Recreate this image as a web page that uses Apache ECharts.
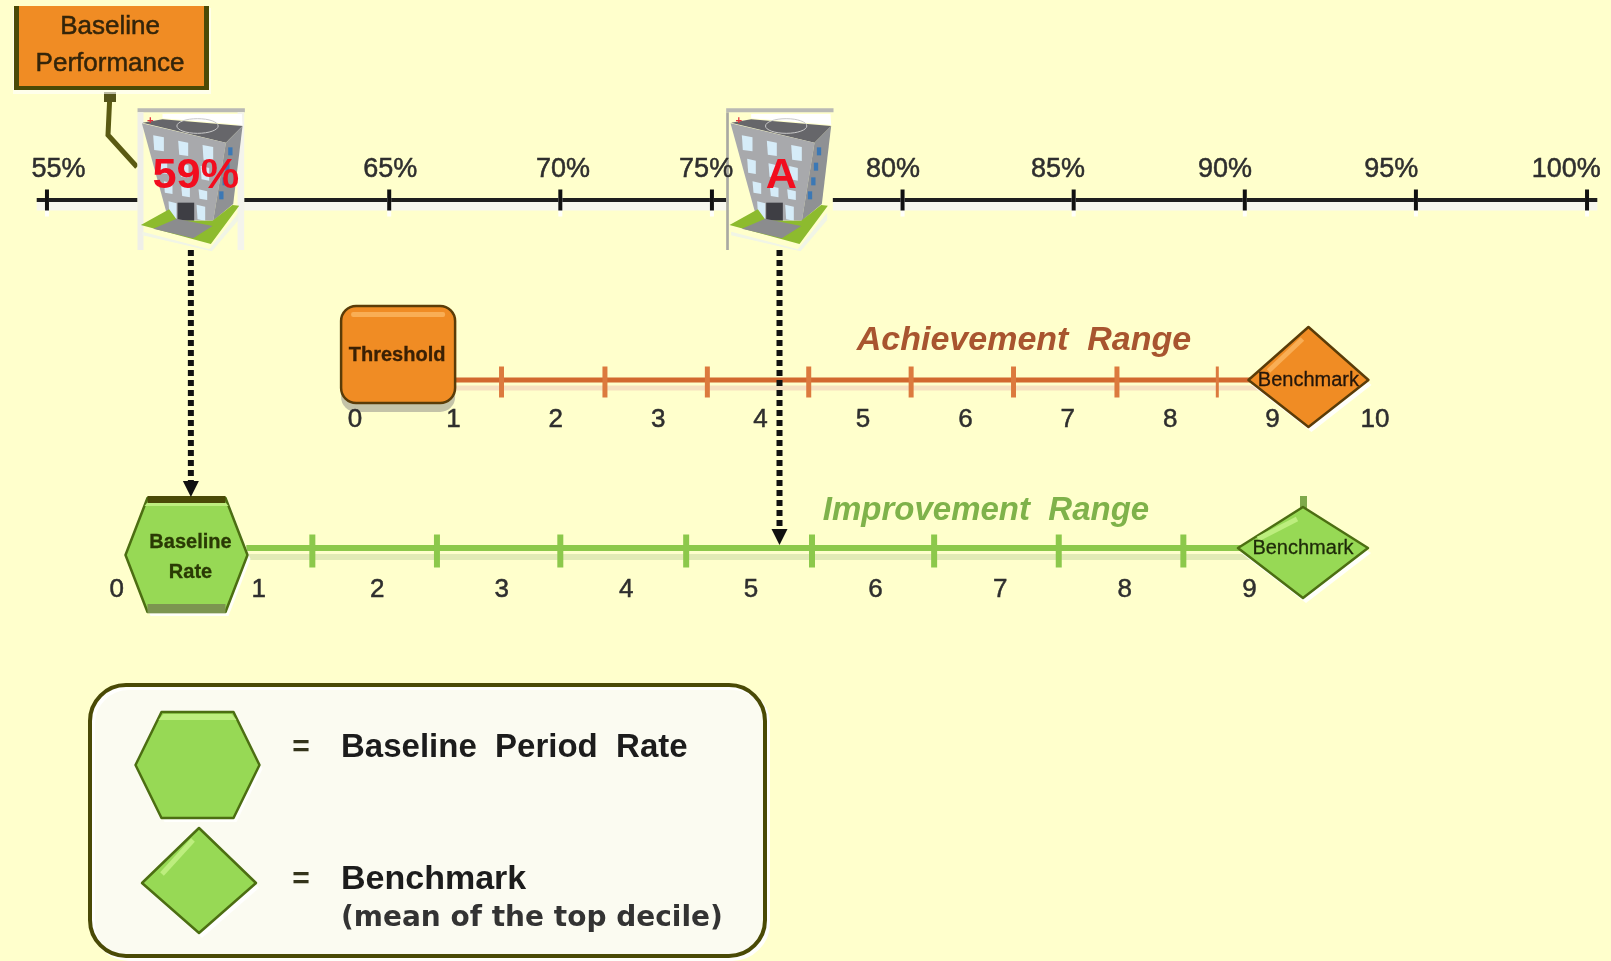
<!DOCTYPE html>
<html>
<head>
<meta charset="utf-8">
<title>Achievement and Improvement Ranges</title>
<script src="https://cdn.jsdelivr.net/npm/echarts@6/dist/echarts.min.js"></script>
<style>
  html, body { margin: 0; padding: 0; background: #FFFFCC; }
  #main { width: 1611px; height: 961px; }
</style>
</head>
<body>
<div id="main"></div>
<script>
// Performance scale
const percentTicks = [55, 60, 65, 70, 74.43, 80, 85, 90, 95, 100];
const percentLabelAnchors = [55.34, 65.03, 70.08, 74.26, 79.72, 84.54, 89.42, 94.28, 99.39];
const percentLabelTexts = ['55%', '65%', '70%', '75%', '80%', '85%', '90%', '95%', '100%'];

// Hospital markers on the performance scale
const hospitalValues = [59, 76.2];
const hospitalTexts = ['59%', 'A'];

// Achievement points
const achievementTicks = [1.47, 2.48, 3.48, 4.47, 5.47, 6.47, 7.48, 8.46];
const achievementLabelAnchors = [0.04, 1, 2, 3, 4, 5, 6, 7, 8, 9, 10];
const achievementLine = [1, 9.3];
const thresholdAt = 0.46;
const achievementBenchmarkAt = 9.35;

// Improvement points
const improvementTicks = [1.48, 2.48, 3.47, 4.48, 5.49, 6.47, 7.47, 8.47];
const improvementLabelAnchors = [-0.09, 1.05, 2, 3, 4, 5, 6, 7, 8, 9];
const improvementLine = [0.95, 9.3];
const baselineRateAt = 0.47;
const improvementBenchmarkAt = 9.43;

// Vertical rows, in page units, shared by the y axes
const SCALE_ROW = 200, ACH_ROW = 380, IMP_ROW = 548, PAGE_H = 961;

const BG = '#FFFFCC';
const ORANGE = '#F08C24', ORANGE_LIGHT = '#F9AE55', ORANGE_DARK = '#5A3C08';
const GREEN = '#97D955', GREEN_LIGHT = '#BDEE7E', GREEN_DARK = '#4C6E12';
const OLIVE = '#4A4A06';
const INK = '#2E2E2E';

const labelBase = {
  fontFamily: 'Liberation Sans', fontSize: 26, color: INK,
  textBorderColor: INK, textBorderWidth: 0.5,
  textShadowColor: 'rgba(255,255,255,0.95)', textShadowBlur: 0, textShadowOffsetY: 4
};

function poly(points, fill, extra) {
  return Object.assign({ type: 'polygon', shape: { points }, style: { fill } }, extra || {});
}
function outlined(points, fill, stroke, w) {
  return { type: 'polygon', shape: { points }, style: { fill, stroke, lineWidth: w, lineJoin: 'round' } };
}
function label(text, x, y, font, fill) {
  return { type: 'text', style: { text, x, y, font, fill, align: 'center', verticalAlign: 'middle', stroke: fill, lineWidth: 0.3 } };
}
function onLayer(parts, z) {
  return parts.map(p => Object.assign({ z }, p));
}

// Bevelled hexagon centred on the group origin
function hexagonParts(halfW, halfH, flat, text, opts) {
  const o = opts || {};
  const pts = [[-flat, -halfH], [flat, -halfH], [halfW, 0], [flat, halfH], [-flat, halfH], [-halfW, 0]];
  const parts = [
    poly(pts.map(p => [p[0] + 3, p[1] + 4]), 'rgba(255,255,255,0.85)'),
    outlined(pts, GREEN, GREEN_DARK, 2.5),
    poly([[-flat + 2, -halfH + 2], [flat - 2, -halfH + 2], [flat + 3, -halfH + 8], [-flat - 3, -halfH + 8]], GREEN_LIGHT)
  ];
  if (o.bands) {
    parts.push({ type: 'rect', shape: { x: -flat, y: -halfH - 2, width: flat * 2, height: 7 }, style: { fill: OLIVE } });
    parts.push({ type: 'rect', shape: { x: -flat, y: halfH - 8, width: flat * 2, height: 9 }, style: { fill: '#7C9550' } });
  }
  return parts.concat(text || []);
}

// Bevelled diamond centred on the group origin
function diamondParts(left, right, top, bottom, fill, light, dark, text) {
  const pts = [[0, -top], [right, 0], [0, bottom], [-left, 0]];
  return [
    poly(pts.map(p => [p[0] + 3, p[1] + 5]), 'rgba(255,255,255,0.9)'),
    outlined(pts, fill, dark, 2.5),
    { type: 'polyline', shape: { points: [[-left + 20, -9], [-6, -top + 12]] }, style: { stroke: light, lineWidth: 5, fill: null } }
  ].concat(text || []);
}

// Hospital building, sketched on a 3:1 local grid
function hospitalParts(text, font, index) {
  const W = '#D6ECF8', B = '#3B78B5';
  const win = (x, y, w, h) => ({ type: 'polygon', shape: { points: [[x, y], [x + w, y + 6], [x + w, y + h + 4], [x + 3, y + h]] }, style: { fill: W } });
  const side = (x, y) => ({ type: 'rect', shape: { x, y, width: 13, height: 24 }, style: { fill: B } });
  const art = [
    { type: 'rect', shape: { x: 225, y: 55, width: 320, height: 425 }, style: { fill: BG } },
    { type: 'rect', shape: { x: 225, y: 55, width: 322, height: 12 }, style: { fill: '#B9B9B4' } },
    { type: 'rect', shape: { x: 225, y: 67, width: index === 0 ? 18 : 8, height: 413 }, style: { fill: index === 0 ? '#EFEFE8' : '#A9A9A2' } }
  ];
  if (index === 0) {
    art.push({ type: 'rect', shape: { x: 525, y: 67, width: 20, height: 413 }, style: { fill: '#F4F4EC' } });
  }
  art.push(
    poly([[300, 85], [300, 72], [538, 72], [540, 105]], '#FFFFFF'),
    poly([[240, 98], [300, 88], [540, 108], [490, 158]], '#66666A'),
    { type: 'ellipse', shape: { cx: 405, cy: 108, rx: 62, ry: 22 }, style: { fill: null, stroke: '#C9C9C9', lineWidth: 3 } },
    { type: 'text', style: { text: '+', x: 263, y: 92, font: 'bold 34px Liberation Sans', fill: '#E5303A', align: 'center', verticalAlign: 'middle' } },
    poly([[238, 100], [490, 158], [452, 392], [318, 390]], '#A8A9AC'),
    poly([[490, 158], [540, 108], [512, 342], [452, 392]], '#8F9194'),
    win(272, 136, 32, 44), win(347, 152, 30, 42), win(420, 165, 32, 44),
    win(288, 206, 26, 42), win(352, 220, 26, 40), win(414, 228, 26, 40),
    win(304, 274, 26, 34), win(356, 288, 26, 30), win(408, 298, 26, 28),
    win(318, 334, 24, 52), win(402, 344, 26, 44),
    side(497, 172), side(488, 218), side(480, 262), side(470, 304),
    { type: 'rect', shape: { x: 345, y: 338, width: 50, height: 54 }, style: { fill: '#3E3E44' } },
    poly([[240, 425], [440, 478], [528, 368], [528, 390], [448, 484], [240, 436]], '#F1F5E6'),
    poly([[235, 405], [320, 358], [345, 392], [450, 392], [510, 345], [530, 347], [445, 462]], '#8DBB2E'),
    poly([[272, 416], [342, 386], [450, 408], [392, 445]], '#8B8C8E'),
    { type: 'text', style: { text, x: index === 0 ? 400 : 391, y: 258, font, fill: '#F20D1E', align: 'center', verticalAlign: 'middle' } }
  );
  return art;
}

const option = {
  backgroundColor: BG,
  animation: false,
  grid: [
    { left: 36.7, width: 1560.6, top: SCALE_ROW, height: PAGE_H - SCALE_ROW },
    { left: 351, width: 1024, top: 0, height: ACH_ROW },
    { left: 103, width: 1271, top: 0, height: IMP_ROW }
  ],
  xAxis: [
    {
      gridIndex: 0, type: 'value', position: 'top', min: 54.7, max: 100.3, z: 8,
      splitLine: { show: false }, axisLine: { show: false }, axisTick: { show: false },
      axisLabel: Object.assign({}, labelBase, {
        margin: 17, fontSize: 27,
        customValues: percentLabelAnchors,
        formatter: v => percentLabelTexts[percentLabelAnchors.indexOf(v)]
      })
    },
    {
      gridIndex: 1, type: 'value', position: 'bottom', min: 0, max: 10, z: 8,
      splitLine: { show: false }, axisLine: { show: false }, axisTick: { show: false },
      axisLabel: Object.assign({}, labelBase, {
        margin: 27, customValues: achievementLabelAnchors, showMinLabel: true, showMaxLabel: true,
        formatter: v => String(Math.round(v))
      })
    },
    {
      gridIndex: 2, type: 'value', position: 'bottom', min: -0.2, max: 10, z: 8,
      splitLine: { show: false }, axisLine: { show: false }, axisTick: { show: false },
      axisLabel: Object.assign({}, labelBase, {
        margin: 29, customValues: improvementLabelAnchors, showMinLabel: true,
        formatter: v => String(Math.round(v))
      })
    }
  ],
  yAxis: [
    { gridIndex: 0, type: 'value', show: false, inverse: true, min: SCALE_ROW, max: PAGE_H },
    { gridIndex: 1, type: 'value', show: false, inverse: true, min: 0, max: ACH_ROW },
    { gridIndex: 2, type: 'value', show: false, inverse: true, min: 0, max: IMP_ROW }
  ],
  series: [
    // Performance scale line and its ticks
    {
      type: 'line', xAxisIndex: 0, yAxisIndex: 0, clip: false, symbol: 'none', silent: true, z: 1,
      data: [[54.7, SCALE_ROW + 6], [100.3, SCALE_ROW + 6]],
      lineStyle: { color: '#F7F7EE', width: 9 }
    },
    {
      type: 'line', xAxisIndex: 0, yAxisIndex: 0, clip: false, symbol: 'none', silent: true, z: 2,
      data: [[54.7, SCALE_ROW], [100.3, SCALE_ROW]],
      lineStyle: { color: '#1E1E1E', width: 4 }
    },
    {
      type: 'scatter', xAxisIndex: 0, yAxisIndex: 0, clip: false, silent: true, z: 2,
      symbol: 'rect', symbolSize: [4, 21],
      data: percentTicks.map(v => [v, SCALE_ROW]),
      itemStyle: { color: '#111111', opacity: 1, shadowColor: 'rgba(255,255,255,0.9)', shadowOffsetY: 6 }
    },
    // Achievement range
    {
      type: 'line', xAxisIndex: 1, yAxisIndex: 1, clip: false, symbol: 'none', silent: true, z: 2,
      data: achievementLine.map(v => [v, ACH_ROW]),
      lineStyle: { color: '#D2692F', width: 5, shadowColor: 'rgba(230,170,170,0.35)', shadowOffsetY: 8 }
    },
    {
      type: 'scatter', xAxisIndex: 1, yAxisIndex: 1, clip: false, silent: true, z: 2,
      symbol: 'rect', symbolOffset: [0, 2],
      symbolSize: (v, p) => (p.dataIndex === achievementTicks.length - 1 ? [3, 31] : [5, 31]),
      data: achievementTicks.map(v => [v, ACH_ROW]),
      itemStyle: { color: '#DC7A3E', opacity: 1 }
    },
    // Improvement range
    {
      type: 'line', xAxisIndex: 2, yAxisIndex: 2, clip: false, symbol: 'none', silent: true, z: 2,
      data: improvementLine.map(v => [v, IMP_ROW]),
      lineStyle: { color: '#8CC84B', width: 6, shadowColor: 'rgba(110,150,90,0.2)', shadowOffsetY: 9 }
    },
    {
      type: 'scatter', xAxisIndex: 2, yAxisIndex: 2, clip: false, silent: true, z: 2,
      symbol: 'rect', symbolSize: [6, 33], symbolOffset: [0, 3],
      data: improvementTicks.map(v => [v, IMP_ROW]),
      itemStyle: { color: '#8CC84B', opacity: 1 }
    },
    // Threshold box
    {
      type: 'custom', xAxisIndex: 1, yAxisIndex: 1, silent: true, z: 4,
      data: [[thresholdAt, ACH_ROW - 25]],
      renderItem(params, api) {
        const c = api.coord([api.value(0), api.value(1)]);
        return {
          type: 'group', x: c[0], y: c[1], children: [
            { type: 'rect', shape: { x: -57, y: -49, width: 114, height: 106, r: 15 }, style: { fill: '#C4C3A8' } },
            { type: 'rect', shape: { x: -57, y: -49, width: 114, height: 97, r: 15 }, style: { fill: ORANGE, stroke: ORANGE_DARK, lineWidth: 2.5 } },
            { type: 'rect', shape: { x: -47, y: -43, width: 94, height: 5, r: 2 }, style: { fill: ORANGE_LIGHT } },
            label('Threshold', -1, 0, 'bold 20px Liberation Sans', '#3A2004')
          ]
        };
      }
    },
    // Achievement benchmark
    {
      type: 'custom', xAxisIndex: 1, yAxisIndex: 1, silent: true, z: 4,
      data: [[achievementBenchmarkAt, ACH_ROW]],
      renderItem(params, api) {
        const c = api.coord([api.value(0), api.value(1)]);
        return {
          type: 'group', x: c[0], y: c[1],
          children: diamondParts(60, 60, 53, 47, ORANGE, ORANGE_LIGHT, ORANGE_DARK,
            [label('Benchmark', 0, 0, '20px Liberation Sans', '#24160A')])
        };
      }
    },
    // Baseline rate hexagon
    {
      type: 'custom', xAxisIndex: 2, yAxisIndex: 2, silent: true, z: 4,
      data: [[baselineRateAt, IMP_ROW + 7]],
      renderItem(params, api) {
        const c = api.coord([api.value(0), api.value(1)]);
        return {
          type: 'group', x: c[0], y: c[1],
          children: hexagonParts(61, 57, 39, [
            label('Baseline', 4, -13, 'bold 20px Liberation Sans', '#2A3A04'),
            label('Rate', 4, 17, 'bold 20px Liberation Sans', '#2A3A04')
          ], { bands: true })
        };
      }
    },
    // Improvement benchmark
    {
      type: 'custom', xAxisIndex: 2, yAxisIndex: 2, silent: true, z: 4,
      data: [[improvementBenchmarkAt, IMP_ROW]],
      renderItem(params, api) {
        const c = api.coord([api.value(0), api.value(1)]);
        return {
          type: 'group', x: c[0], y: c[1],
          children: [
            { type: 'rect', shape: { x: -3, y: -52, width: 7, height: 12 }, style: { fill: '#7FA94A' } }
          ].concat(diamondParts(65, 65, 41, 50, GREEN, GREEN_LIGHT, GREEN_DARK,
            [label('Benchmark', 0, 0, '20px Liberation Sans', '#1E2A08')]))
        };
      }
    },
    // Dotted links from each hospital down to its range
    {
      type: 'custom', xAxisIndex: 0, yAxisIndex: 0, silent: true, z: 5,
      data: hospitalValues.map((v, i) => [v, i === 0 ? 497 : IMP_ROW - 3]),
      renderItem(params, api) {
        const from = api.coord([api.value(0), 250]);
        const to = api.coord([api.value(0), api.value(1)]);
        const x = from[0] + 7;
        return {
          type: 'group', children: [
            { type: 'line', shape: { x1: x, y1: from[1], x2: x, y2: to[1] - 14 }, style: { stroke: '#111', lineWidth: 6, lineDash: [6, 4] } },
            poly([[x - 8, to[1] - 16], [x + 8, to[1] - 16], [x, to[1]]], '#111')
          ]
        };
      }
    },
    // Hospital markers
    {
      type: 'custom', xAxisIndex: 0, yAxisIndex: 0, silent: true, z: 6,
      data: hospitalValues.map(v => [v, SCALE_ROW]),
      renderItem(params, api) {
        const c = api.coord([api.value(0), api.value(1)]);
        const i = params.dataIndex;
        return {
          type: 'group', x: c[0] + 7 - 385 / 3, y: 90, scaleX: 1 / 3, scaleY: 1 / 3,
          children: hospitalParts(hospitalTexts[i], 'bold 130px Liberation Sans', i)
        };
      }
    }
  ],
  graphic: [
    // Baseline performance callout
    { type: 'polyline', z: 3, shape: { points: [[110, 92], [108, 135], [137, 167]] }, style: { stroke: '#5A5A12', lineWidth: 5, fill: null } },
    { type: 'rect', z: 3, shape: { x: 104, y: 92, width: 12, height: 10 }, style: { fill: '#55551A' } },
    { type: 'rect', z: 3, shape: { x: 13, y: 8, width: 198, height: 86 }, style: { fill: 'rgba(255,255,255,0.6)' } },
    { type: 'rect', z: 4, shape: { x: 14, y: 6, width: 195, height: 84 }, style: { fill: OLIVE } },
    { type: 'rect', z: 4, shape: { x: 19, y: 6, width: 185, height: 80 }, style: { fill: ORANGE } },
    { type: 'text', z: 5, style: { text: 'Baseline', x: 110, y: 27, font: '26px Liberation Sans', fill: '#33240A', stroke: '#33240A', lineWidth: 0.5, align: 'center', verticalAlign: 'middle' } },
    { type: 'text', z: 5, style: { text: 'Performance', x: 110, y: 64, font: '26px Liberation Sans', fill: '#33240A', stroke: '#33240A', lineWidth: 0.5, align: 'center', verticalAlign: 'middle' } },
    // Range titles
    { type: 'text', z: 3, style: { text: 'Achievement  Range', x: 1024, y: 341, font: 'italic bold 34px Liberation Sans', fill: '#A8552F', align: 'center', verticalAlign: 'middle', shadowColor: 'rgba(120,120,110,0.45)', shadowOffsetY: 3, shadowOffsetX: 1 } },
    { type: 'text', z: 3, style: { text: 'Improvement  Range', x: 986, y: 511, font: 'italic bold 33px Liberation Sans', fill: '#7FB24A', align: 'center', verticalAlign: 'middle', shadowColor: 'rgba(120,130,110,0.4)', shadowOffsetY: 3, shadowOffsetX: 1 } },
    // Key panel
    { type: 'rect', z: 3, shape: { x: 90, y: 685, width: 675, height: 271, r: 36 }, style: { fill: '#FBFBF1', stroke: OLIVE, lineWidth: 4, shadowColor: 'rgba(255,255,255,0.9)', shadowOffsetY: 3, shadowOffsetX: 3 } },
    { type: 'group', x: 197.5, y: 765, children: onLayer(hexagonParts(62, 53, 36), 4) },
    { type: 'group', x: 199, y: 883, children: onLayer(diamondParts(57, 57, 55, 50, GREEN, GREEN_LIGHT, GREEN_DARK), 4) },
    { type: 'text', z: 5, style: { text: '=', x: 301, y: 748, font: 'bold 30px Liberation Sans', fill: '#33331A', align: 'center', verticalAlign: 'middle' } },
    { type: 'text', z: 5, style: { text: 'Baseline  Period  Rate', x: 341, y: 748, font: 'bold 33px Liberation Sans', fill: '#1C1C1C', align: 'left', verticalAlign: 'middle' } },
    { type: 'text', z: 5, style: { text: '=', x: 301, y: 880, font: 'bold 30px Liberation Sans', fill: '#33331A', align: 'center', verticalAlign: 'middle' } },
    { type: 'text', z: 5, style: { text: 'Benchmark', x: 341, y: 880, font: 'bold 34px Liberation Sans', fill: '#1C1C1C', align: 'left', verticalAlign: 'middle' } },
    { type: 'text', z: 5, style: { text: '(mean of the top decile)', x: 341, y: 919, font: 'bold 28px DejaVu Sans', fill: '#333333', align: 'left', verticalAlign: 'middle' } }
  ]
};

const chart = echarts.init(document.getElementById('main'), null, { renderer: 'canvas' });
chart.setOption(option);
</script>
</body>
</html>
